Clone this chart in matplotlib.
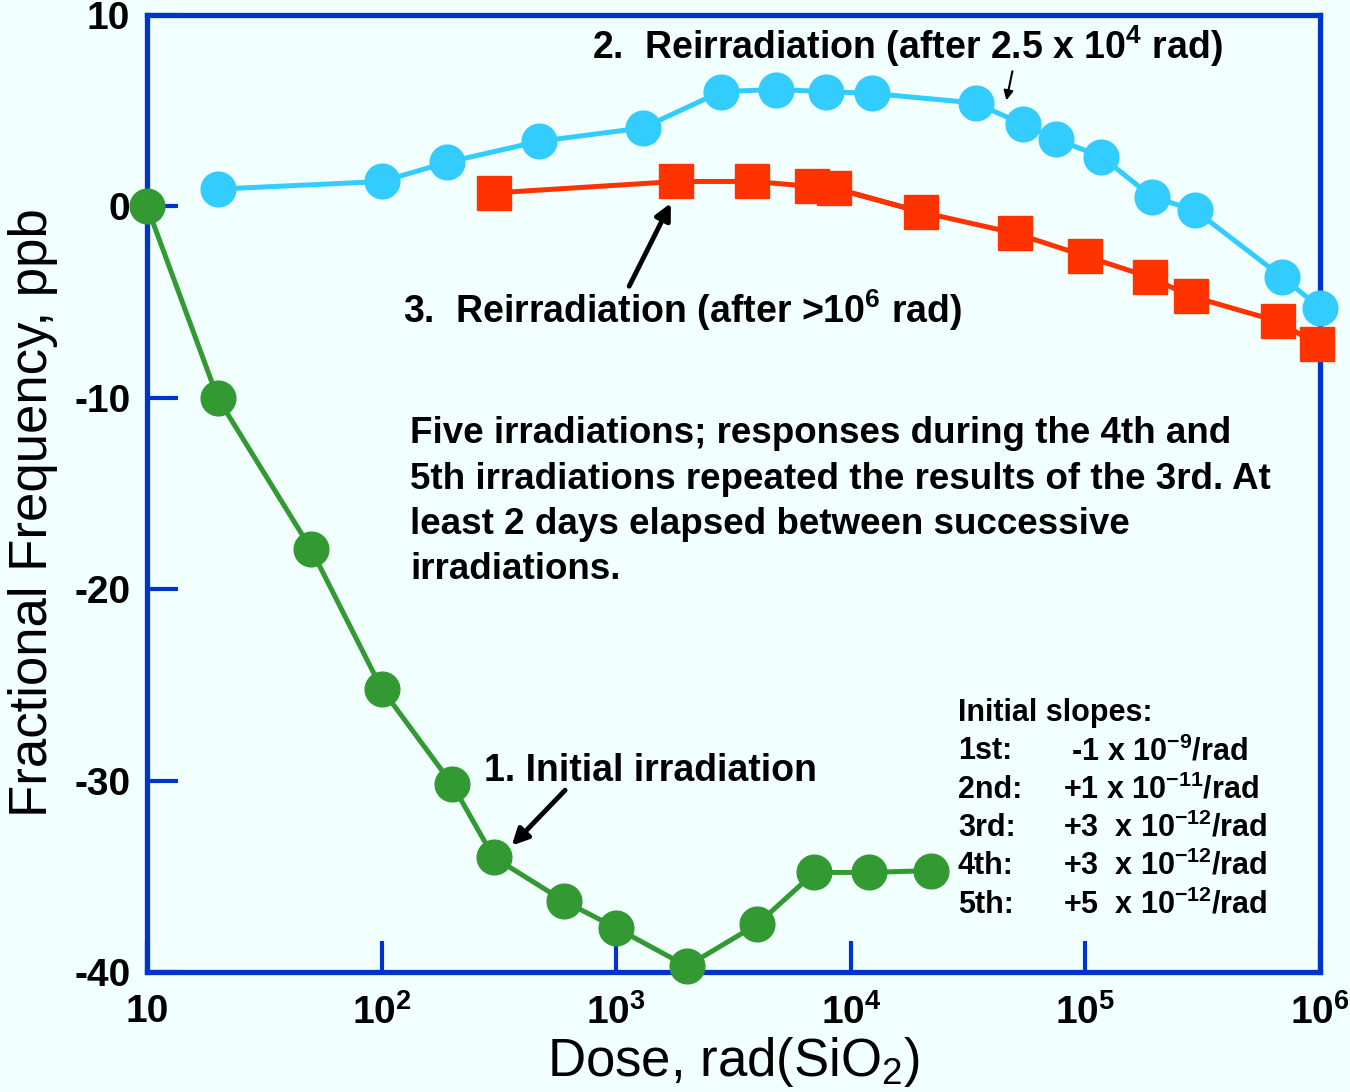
import matplotlib
matplotlib.use('Agg')
import matplotlib.pyplot as plt
from matplotlib.ticker import FixedLocator, NullLocator

plt.rcParams['font.family'] = ['Liberation Sans', 'DejaVu Sans']
plt.rcParams['mathtext.fontset'] = 'custom'
plt.rcParams['mathtext.rm'] = 'Liberation Sans'
plt.rcParams['mathtext.bf'] = 'Liberation Sans:bold'
plt.rcParams['mathtext.default'] = 'bf'
plt.rcParams['axes.unicode_minus'] = False

# 1. initial irradiation
dose_1 = [10, 20, 50, 100, 200, 300, 600, 1000, 2000, 4000, 7000, 12000, 22000]
freq_1 = [0, -10.0, -17.9, -25.2, -30.2, -34.0, -36.3, -37.7, -39.7, -37.5, -34.8, -34.8, -34.7]

# 2. reirradiation after 2.5e4 rad
dose_2 = [20, 100, 190, 470, 1300, 2800, 4800, 7800, 12300, 34000, 54000, 75000,
          117000, 192000, 293000, 690000, 1000000]
freq_2 = [0.9, 1.3, 2.3, 3.4, 4.1, 6.0, 6.1, 6.0, 5.9, 5.4, 4.3, 3.5, 2.6, 0.5, -0.2, -3.7, -5.3]

# 3. reirradiation after >1e6 rad
dose_3 = [300, 1800, 3800, 6800, 8500, 20000, 50000, 100000, 188000, 282000, 660000, 970000]
freq_3 = [0.7, 1.3, 1.3, 1.05, 0.95, -0.3, -1.4, -2.6, -3.7, -4.7, -6.0, -7.2]

x_ticks = [10, 1e2, 1e3, 1e4, 1e5, 1e6]
x_labels = ['10', '10$^2$', '10$^3$', '10$^4$', '10$^5$', '10$^6$']
y_ticks = [-40, -30, -20, -10, 0, 10]

note_lines = ['Five irradiations; responses during the 4th and',
              '5th irradiations repeated the results of the 3rd. At',
              'least 2 days elapsed between successive',
              'irradiations.']

slope_names = ['1st:', '2nd:', '3rd:', '4th:', '5th:']
slope_values = [' -1 x 10$^{-9}$/rad', '+1 x 10$^{-11}$/rad', '+3  x 10$^{-12}$/rad',
                '+3  x 10$^{-12}$/rad', '+5  x 10$^{-12}$/rad']

BLUE = '#0033CC'
GREEN = '#339933'
CYAN = '#33CCFF'
RED = '#FF3300'
BG = '#F2FFFF'

fig = plt.figure(figsize=(13.5, 10.92), dpi=100, facecolor=BG)
ax = fig.add_axes([0.1089, 0.1099, 0.8689, 0.8764])
ax.set_facecolor(BG)
ax.set_xscale('log')
ax.set_xlim(10, 1e6)
ax.set_ylim(-40, 10)

ax.plot(dose_1, freq_1, color=GREEN, lw=3.6, marker='o', ms=25, clip_on=False, zorder=3)
ax.plot(dose_2, freq_2, color=CYAN, lw=3.6, marker='o', ms=25, clip_on=False, zorder=3)
ax.plot(dose_3, freq_3, color=RED, lw=3.6, marker='s', ms=25, clip_on=False, zorder=3)
# the one bright-red segment in the original
ax.plot(dose_3[4:6], freq_3[4:6], color='#FF0000', lw=3.6, zorder=2.9)

for s in ax.spines.values():
    s.set_color(BLUE)
    s.set_linewidth(3.8)
    s.set_zorder(1)

ax.xaxis.set_major_locator(FixedLocator(x_ticks))
ax.xaxis.set_minor_locator(NullLocator())
ax.set_xticklabels(x_labels)
ax.set_yticks(y_ticks)
ax.set_yticklabels([str(v) for v in y_ticks])
ax.tick_params(which='major', direction='in', length=22, width=3, color=BLUE,
               labelsize=28)
ax.tick_params(axis='x', pad=16)
ax.tick_params(axis='y', pad=12)
for lab in ax.get_xticklabels() + ax.get_yticklabels():
    lab.set_fontweight('bold')

ax.set_xlabel('Dose, rad(SiO$\\mathrm{_2}$)', fontsize=38, labelpad=2)
ax.set_ylabel('Fractional Frequency, ppb', fontsize=38)
ax.yaxis.set_label_coords(-0.076, 0.48)

# annotations
ax.text(789, 8.36, '2.  Reirradiation (after 2.5 x 10$^4$ rad)', fontsize=27,
        fontweight='bold', va='center', ha='left')
ax.annotate('', xy=(45800, 5.4), xytext=(49100, 7.2),
            arrowprops=dict(arrowstyle='-|>', color='black', lw=1.5, mutation_scale=14))

ax.text(123, -5.41, '3.  Reirradiation (after >10$^6$ rad)', fontsize=27,
        fontweight='bold', va='center', ha='left')
ax.annotate('', xy=(1730, 0.3), xytext=(1122, -4.3),
            arrowprops=dict(arrowstyle='-|>', color='black', lw=3.5, mutation_scale=24))

ax.text(273, -29.5, '1. Initial irradiation', fontsize=27,
        fontweight='bold', va='center', ha='left')
ax.annotate('', xy=(352, -33.5), xytext=(617, -30.4),
            arrowprops=dict(arrowstyle='-|>', color='black', lw=3.5, mutation_scale=24))

for i, line in enumerate(note_lines):
    ax.text(132, -11.88 - i * 2.365, line, fontsize=26.5, fontweight='bold',
            va='center', ha='left')

ax.text(28600, -26.48, 'Initial slopes:', fontsize=22, fontweight='bold', va='center')
for i, (name, val) in enumerate(zip(slope_names, slope_values)):
    y = -26.48 - (i + 1) * 2.0
    ax.text(28600, y, name, fontsize=22, fontweight='bold', va='center')
    ax.text(80100, y, val, fontsize=22, fontweight='bold', va='center')

fig.savefig('out.png', dpi=100, facecolor=BG)
